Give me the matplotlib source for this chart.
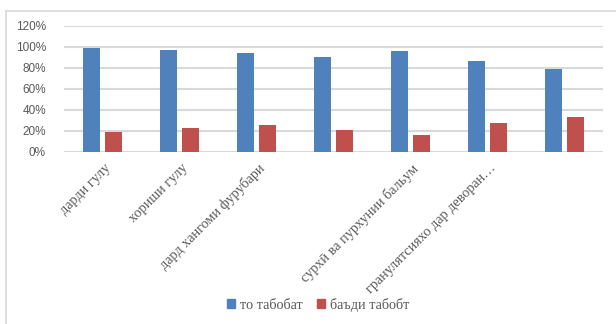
import numpy as np
import matplotlib
matplotlib.use("Agg")
import matplotlib.pyplot as plt
from matplotlib.patches import Patch
from matplotlib.lines import Line2D
from matplotlib.ticker import PercentFormatter

categories = [
    "дарди гулу",
    "хориши гулу",
    "дард хангоми фурубари",
    "",
    "сурхӣ ва пурхунии бальум",
    "гранулятсияхо дар деворан…",
    "",
]
before = [99, 97, 93.5, 90, 96, 86, 79]   # то табобат
after = [18.5, 22.5, 25.5, 20.5, 16.5, 27.5, 33]   # баъди табобт
series_names = ["то табобат", "баъди табобт"]

blue = "#4F81BD"
red = "#C0504D"
text_gray = "#595959"
grid_gray = "#D9D9D9"

fig = plt.figure(figsize=(6.16, 3.24), dpi=100)
ax = fig.add_axes([64 / 616, 1 - 152 / 324, (603 - 64) / 616, (152 - 25.5) / 324])

x = np.arange(len(categories))
w = 0.22
ax.bar(x - 0.143, before, w, color=blue, zorder=3)
ax.bar(x + 0.143, after, w, color=red, zorder=3)

ax.set_xlim(-0.5, len(categories) - 0.5)
ax.set_ylim(0, 120)
ax.set_yticks(range(0, 121, 20))
ax.yaxis.set_major_formatter(PercentFormatter(decimals=0))
ax.grid(axis="y", color=grid_gray, linewidth=1.5, zorder=0)
for s in ax.spines.values():
    s.set_visible(False)
ax.tick_params(axis="y", length=0, pad=13, labelsize=8.5, labelcolor=text_gray)
for lab in ax.get_yticklabels():
    lab.set_fontfamily("Liberation Sans")
ax.set_xticks([])

for i, name in enumerate(categories):
    ax.annotate(name, xy=(i, 0), xycoords=("data", "axes fraction"),
                xytext=(1, -7), textcoords="offset points",
                rotation=45, rotation_mode="anchor", ha="right", va="top",
                fontsize=10.3, color=text_gray, family="Liberation Serif")

# chart border (left and top only visible)
fig.add_artist(Line2D([6 / 616, 6 / 616], [0, 1 - 11 / 324], transform=fig.transFigure,
                      color=grid_gray, linewidth=1.2))
fig.add_artist(Line2D([6 / 616, 1], [1 - 11 / 324, 1 - 11 / 324], transform=fig.transFigure,
                      color=grid_gray, linewidth=1.2))

handles = [Patch(color=blue), Patch(color=red)]
leg = fig.legend(handles, series_names, loc="center", bbox_to_anchor=(318 / 616, 1 - 305 / 324),
                 ncol=2, frameon=False, handlelength=0.6, handleheight=0.6,
                 handletextpad=0.3, columnspacing=1.0,
                 prop={"family": "Liberation Serif", "size": 10.3})
for t in leg.get_texts():
    t.set_color(text_gray)

fig.savefig("out.png", dpi=100)
